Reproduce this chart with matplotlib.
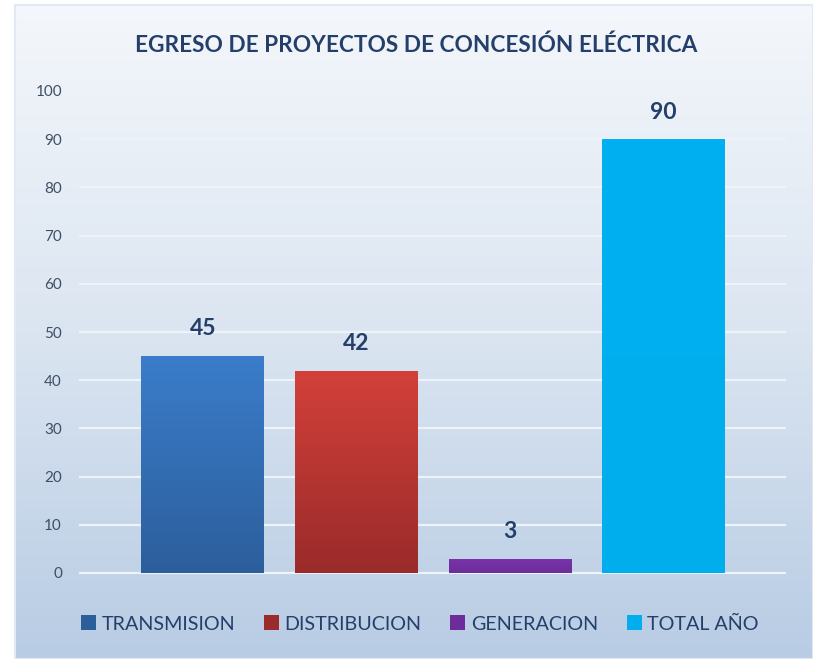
import numpy as np
import matplotlib
matplotlib.use("Agg")
import matplotlib.pyplot as plt
from matplotlib.colors import LinearSegmentedColormap
from matplotlib.patches import Rectangle

categories = ["TRANSMISION", "DISTRIBUCION", "GENERACION", "TOTAL AÑO"]
values = [45, 42, 3, 90]
yticks = [0, 10, 20, 30, 40, 50, 60, 70, 80, 90, 100]
title = "EGRESO DE PROYECTOS DE CONCESIÓN ELÉCTRICA"

# (top colour, bottom colour) for each bar's vertical gradient
bar_gradients = [
    ("#3b7dca", "#2c5e9c"),
    ("#d3403a", "#9a2b2a"),
    ("#7a33aa", "#6c2d9a"),
    ("#00b0f0", "#00aeee"),
]
text_color = "#24406a"

plt.rcParams["font.family"] = ["Lato", "DejaVu Sans"]

W, H = 813, 659
fig = plt.figure(figsize=(W / 100, H / 100), dpi=100)
fig.patch.set_facecolor("white")

# chart area with a soft vertical gradient
bg = fig.add_axes([15 / W, 0, 1 - 15 / W, 1 - 5 / H], zorder=0)
bg_cmap = LinearSegmentedColormap.from_list("bg", ["#f4f7fb", "#dbe5f1", "#b8cce4"])
bg.imshow(np.linspace(0, 1, 256).reshape(-1, 1), cmap=bg_cmap, aspect="auto",
          extent=[0, 1, 0, 1], origin="upper")
bg.set_axis_off()
bg.add_patch(Rectangle((0, 0), 1, 1, transform=bg.transAxes, fill=False,
                       edgecolor="#e3e9f2", linewidth=1.5, clip_on=False))

ax = fig.add_axes([80 / W, (H - 573) / H, 705 / W, (573 - 91) / H], zorder=1)
ax.set_facecolor("none")

x = np.arange(len(categories))
bars = ax.bar(x, values, width=0.8, zorder=3, label=categories,
              color=[g[1] for g in bar_gradients], linewidth=0)

for rect, (top, bottom) in zip(bars, bar_gradients):
    cmap = LinearSegmentedColormap.from_list("bar", [top, bottom])
    bx, by = rect.get_x(), rect.get_y()
    bw, bh = rect.get_width(), rect.get_height()
    im = ax.imshow(np.linspace(0, 1, 128).reshape(-1, 1), cmap=cmap, aspect="auto",
                   extent=[bx, bx + bw, by, by + bh], origin="upper", zorder=3.5)
    im.set_clip_path(rect)

for xi, v in zip(x, values):
    ax.annotate(f"{v}", (xi, v), xytext=(0, 12), textcoords="offset points",
                ha="center", va="bottom", fontsize=16.5, fontweight="bold",
                color=text_color)

ax.set_xlim(-0.8, 3.79)
ax.set_ylim(0, 100)
ax.set_yticks(yticks)
ax.set_xticks([])
ax.tick_params(axis="y", length=0, pad=13, labelsize=11, labelcolor="#3e4f66")
for s in ax.spines.values():
    s.set_visible(False)
ax.yaxis.grid(True, color="#eef3f9", linewidth=1.6, zorder=1)
ax.set_axisbelow(True)
for gl in ax.get_ygridlines():
    gl.set_clip_on(False)

fig.text(416 / W, 1 - 45 / H, title, ha="center", va="center", fontsize=16.3,
         fontweight="bold", color=text_color)

leg = fig.legend(handles=list(bars), labels=categories, loc="center",
                 bbox_to_anchor=(420 / W, 1 - 624 / H), ncol=4, frameon=False,
                 handlelength=0.75, handleheight=0.75, handletextpad=0.3,
                 columnspacing=1.45, fontsize=14.2)
for t in leg.get_texts():
    t.set_color(text_color)

fig.savefig("out.png", dpi=100, facecolor=fig.get_facecolor())
